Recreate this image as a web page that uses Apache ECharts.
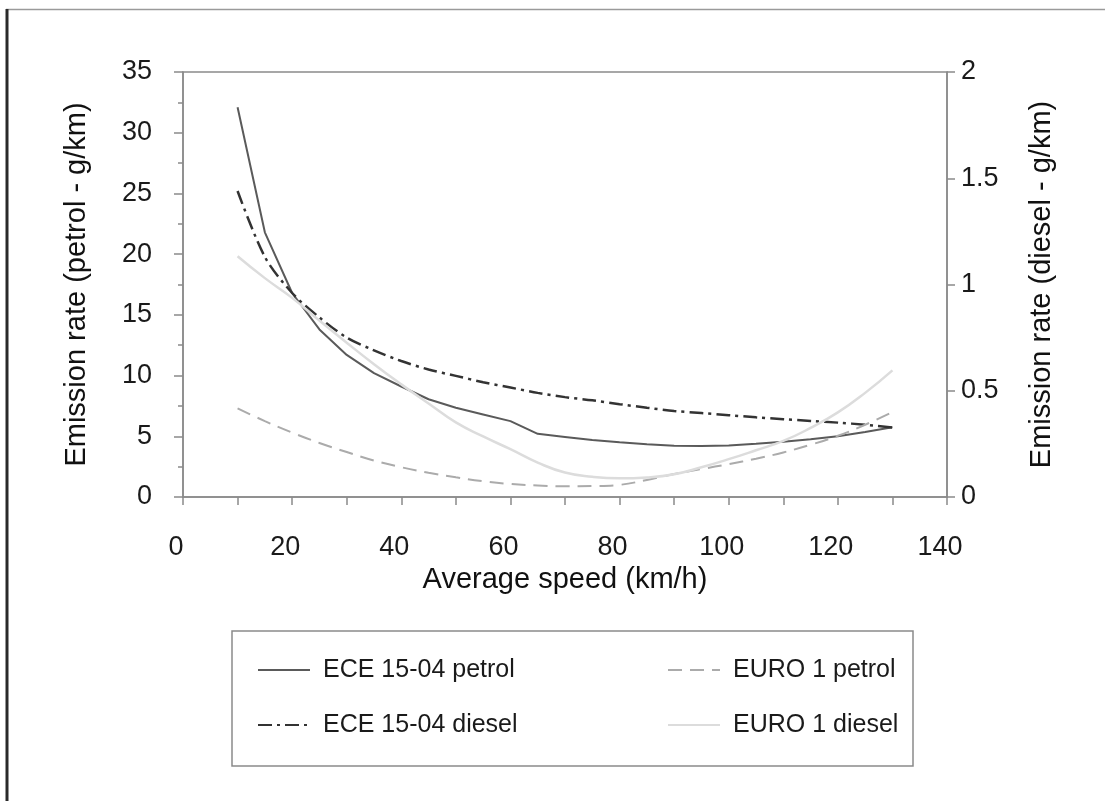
<!DOCTYPE html>
<html>
<head>
<meta charset="utf-8">
<script src="https://cdn.jsdelivr.net/npm/echarts@6/dist/echarts.min.js"></script>
<style>
html,body{margin:0;padding:0;background:#fff;}
#chart{width:1105px;height:801px;}
</style>
</head>
<body>
<div id="chart"></div>
<script>
var speeds = [10,15,20,25,30,35,40,45,50,55,60,65,70,75,80,85,90,95,100,105,110,115,120,125,130];
var ecePetrol = [32.1,21.8,16.8,13.8,11.7,10.2,9.1,8.05,7.35,6.8,6.25,5.2,4.95,4.7,4.5,4.35,4.22,4.2,4.25,4.38,4.55,4.75,5.0,5.35,5.75];
var eceDiesel = [1.44,1.13,0.96,0.845,0.75,0.69,0.64,0.60,0.57,0.54,0.515,0.49,0.47,0.455,0.437,0.42,0.405,0.395,0.385,0.375,0.366,0.358,0.35,0.34,0.327];
var euroPetrol = [7.3,6.25,5.3,4.45,3.7,3.0,2.45,2.0,1.62,1.3,1.07,0.95,0.88,0.9,1.0,1.4,1.89,2.3,2.71,3.15,3.67,4.3,5.04,5.95,7.0];
var euroDiesel = [1.133,1.03,0.937,0.83,0.726,0.625,0.53,0.44,0.351,0.285,0.225,0.162,0.115,0.095,0.088,0.092,0.107,0.14,0.178,0.22,0.264,0.325,0.398,0.49,0.596];
var seriesNames = ['ECE 15-04 petrol','ECE 15-04 diesel','EURO 1 petrol','EURO 1 diesel'];
var xTitle = 'Average speed (km/h)';
var yLeftTitle = 'Emission rate (petrol - g/km)';
var yRightTitle = 'Emission rate (diesel - g/km)';

function pairs(vals){ return speeds.map(function(s,i){ return [s, vals[i]]; }); }

var FONT = '"Liberation Sans", Arial, Helvetica, sans-serif';
var chart = echarts.init(document.getElementById('chart'), null, {renderer:'canvas'});
var axisCol = '#8a8a8a';
var legendText = {fontSize:25, color:'#1a1a1a', lineHeight:26, padding:[0,0,0,8], fontFamily:FONT};
chart.setOption({
  backgroundColor:'#fff',
  animation:false,
  textStyle:{fontFamily:FONT},
  grid:{left:183, right:158, top:72, bottom:304, show:true, borderColor:axisCol, borderWidth:1.5, backgroundColor:'transparent'},
  xAxis:{
    type:'value', min:0, max:140, interval:20,
    name:xTitle, nameLocation:'middle', nameGap:64,
    nameTextStyle:{fontSize:29, color:'#111', fontFamily:FONT},
    axisLine:{show:true, onZero:false, lineStyle:{color:axisCol, width:1.5}},
    axisTick:{show:true, inside:false, length:8, lineStyle:{color:axisCol, width:1.5}},
    minorTick:{show:true, splitNumber:2, length:8, lineStyle:{color:axisCol, width:1.5}},
    splitLine:{show:false},
    axisLabel:{fontSize:27, color:'#1a1a1a', margin:37, padding:[0,14,0,0], fontFamily:FONT}
  },
  yAxis:[{
    type:'value', min:0, max:35, interval:5, position:'left',
    name:yLeftTitle, nameLocation:'middle', nameGap:92, nameRotate:90,
    nameTextStyle:{fontSize:29, color:'#111', fontFamily:FONT},
    axisLine:{show:true, lineStyle:{color:axisCol, width:1.5}},
    axisTick:{show:true, length:9, lineStyle:{color:axisCol, width:1.5}},
    minorTick:{show:true, splitNumber:2, length:5, lineStyle:{color:axisCol, width:1.5}},
    splitLine:{show:false},
    axisLabel:{fontSize:27, color:'#1a1a1a', margin:31, padding:[12,0,0,0], fontFamily:FONT}
  },{
    type:'value', min:0, max:2, interval:0.5, position:'right',
    name:yRightTitle, nameLocation:'middle', nameGap:80, nameRotate:90,
    nameTextStyle:{fontSize:29, color:'#111', fontFamily:FONT},
    axisLine:{show:true, lineStyle:{color:axisCol, width:1.5}},
    axisTick:{show:true, length:8, lineStyle:{color:axisCol, width:1.5}},
    splitLine:{show:false},
    axisLabel:{fontSize:27, color:'#1a1a1a', margin:14, padding:[14,0,0,0], fontFamily:FONT}
  }],
  legend:[{
    data:[seriesNames[0], seriesNames[1]],
    orient:'vertical', left:252, top:652, itemWidth:52, itemHeight:14, itemGap:29,
    itemStyle:{opacity:0, borderWidth:0},
    textStyle:legendText
  },{
    data:[seriesNames[2], seriesNames[3]],
    orient:'vertical', left:662, top:652, itemWidth:52, itemHeight:14, itemGap:29,
    itemStyle:{opacity:0, borderWidth:0},
    textStyle:legendText
  }],
  graphic:[
    {type:'rect', shape:{x:232, y:631, width:681, height:135}, style:{fill:'none', stroke:'#8a8a8a', lineWidth:1.5}, silent:true},
    {type:'line', shape:{x1:6, y1:9.5, x2:1105, y2:9.5}, style:{stroke:'#9a9a9a', lineWidth:1.5}, silent:true},
    {type:'line', shape:{x1:7, y1:9, x2:7, y2:801}, style:{stroke:'#2a2a2a', lineWidth:3}, silent:true}
  ],
  series:[{
    name:seriesNames[0], type:'line', yAxisIndex:0, data:pairs(ecePetrol), symbol:'none', smooth:false,
    lineStyle:{color:'#5a5a5a', width:2, type:'solid'}, itemStyle:{color:'#5a5a5a'}
  },{
    name:seriesNames[1], type:'line', yAxisIndex:1, data:pairs(eceDiesel), symbol:'none', smooth:0.3,
    lineStyle:{color:'#333', width:2.5, type:[14,5,3,5]}, itemStyle:{color:'#333'}
  },{
    name:seriesNames[2], type:'line', yAxisIndex:0, data:pairs(euroPetrol), symbol:'none', smooth:0.4,
    lineStyle:{color:'#ababab', width:2, type:[14,8]}, itemStyle:{color:'#ababab'}
  },{
    name:seriesNames[3], type:'line', yAxisIndex:1, data:pairs(euroDiesel), symbol:'none', smooth:0.5,
    lineStyle:{color:'#dcdcdc', width:2.5, type:'solid'}, itemStyle:{color:'#dcdcdc'}
  }]
});
</script>
</body>
</html>
